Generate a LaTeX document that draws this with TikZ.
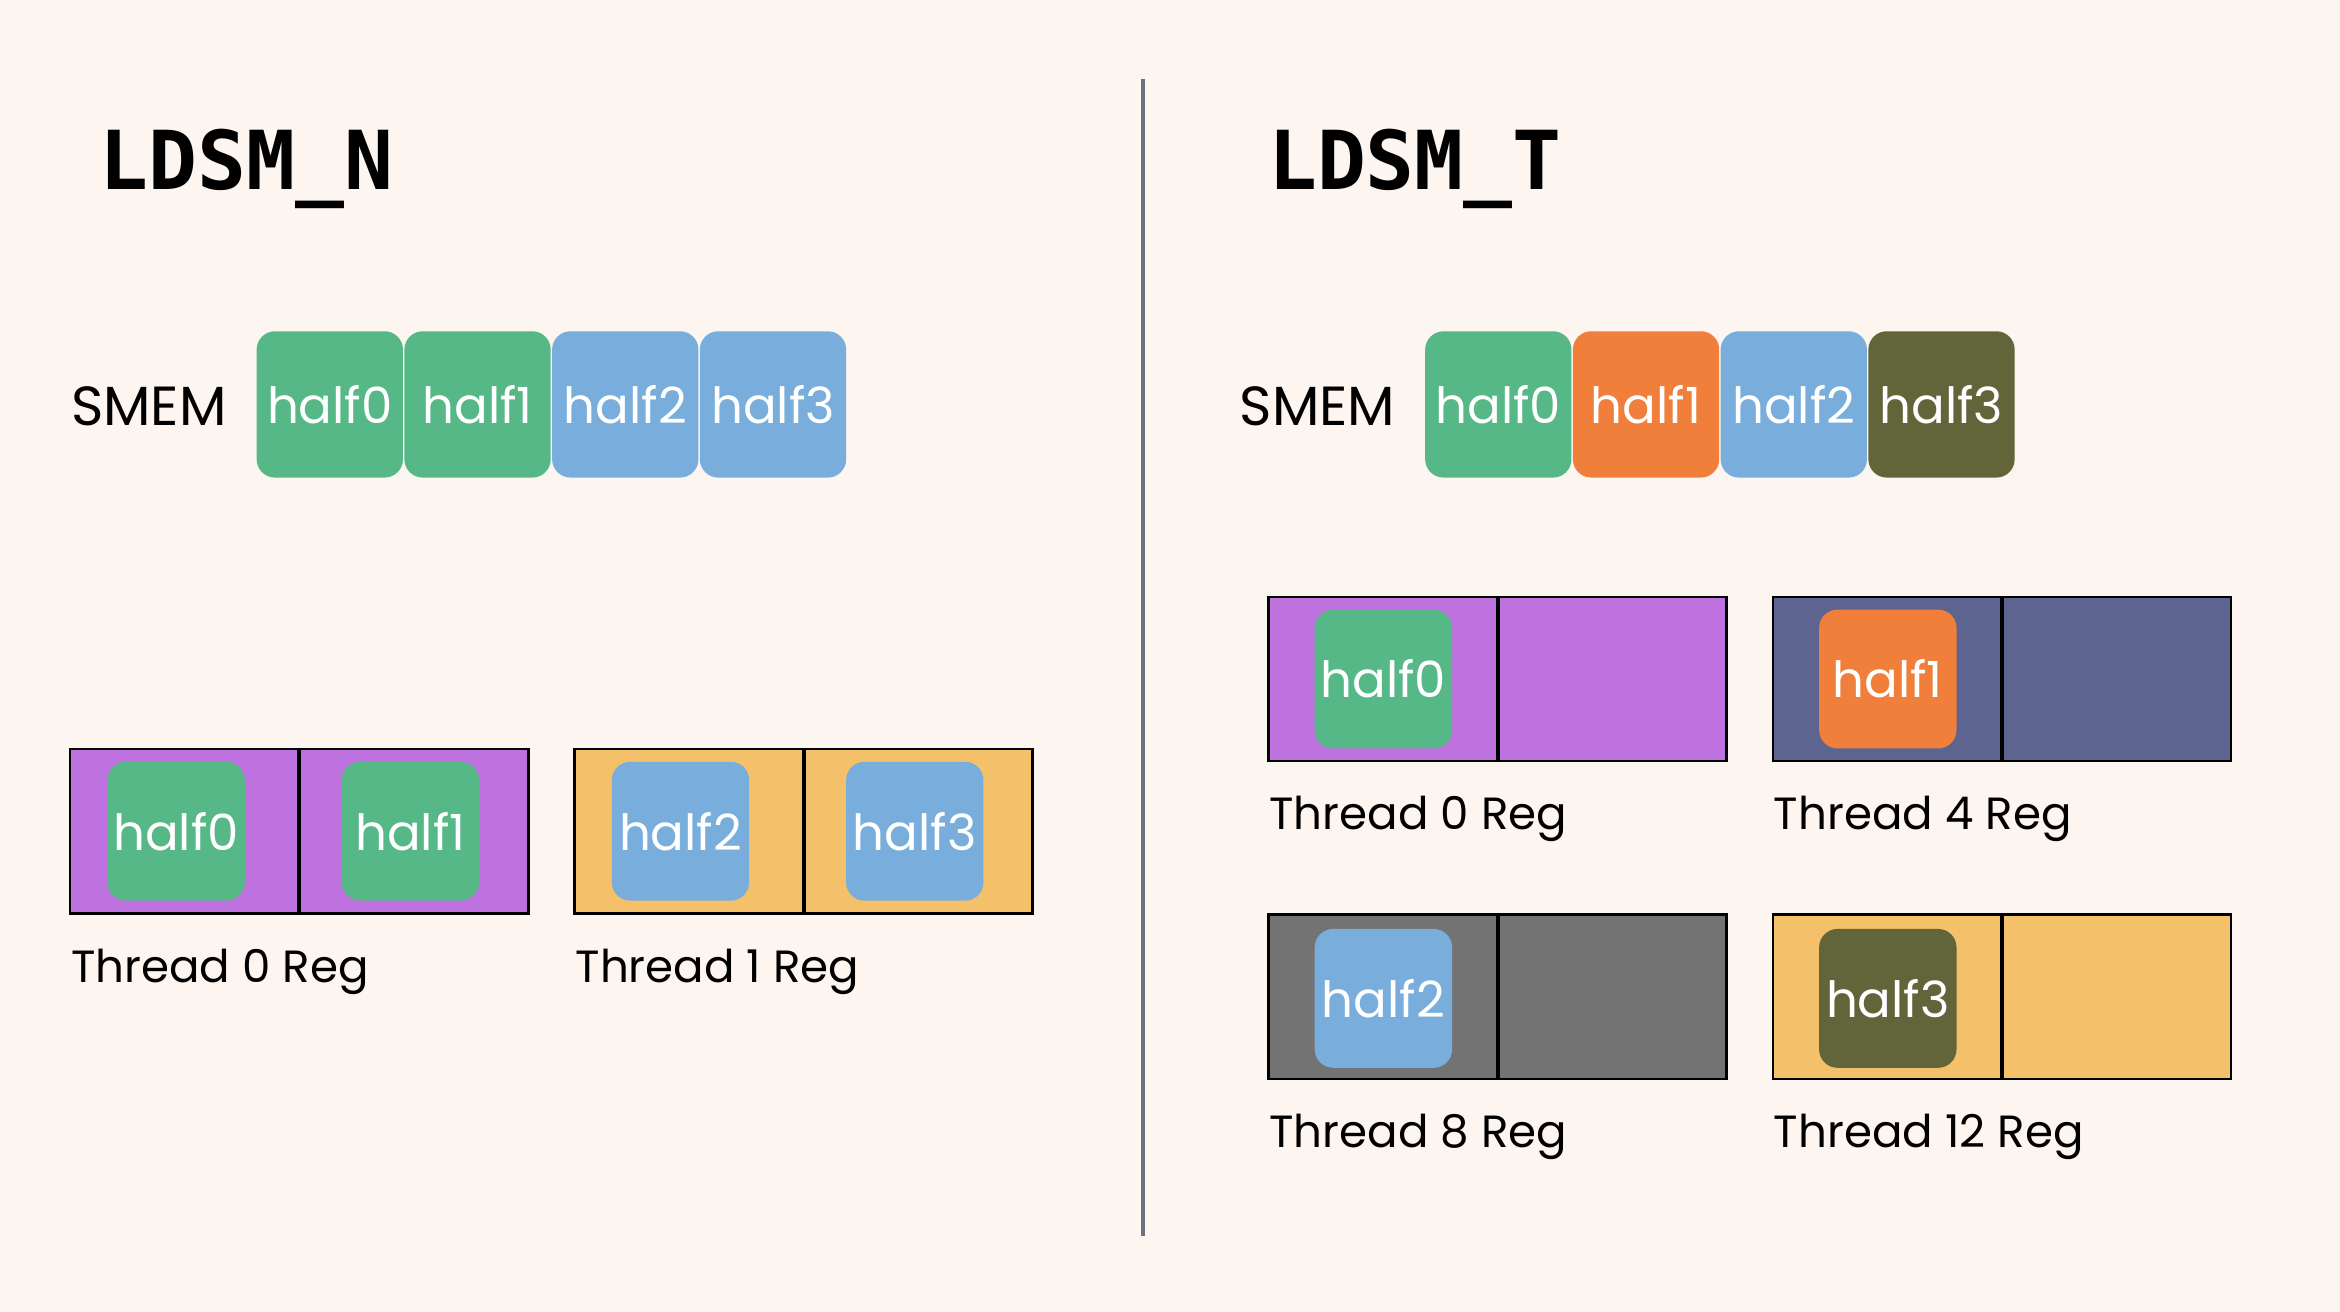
\documentclass[tikz,border=0pt]{standalone}
\usepackage{fontspec}
\setmainfont{Poppins}
\newfontfamily\titlefont{DejaVu Sans Mono}
\definecolor{bgc}{HTML}{FDF5EF}
\definecolor{hgreen}{HTML}{57B887}
\definecolor{hblue}{HTML}{79AEDC}
\definecolor{horange}{HTML}{EF7F3A}
\definecolor{holive}{HTML}{62643A}
\definecolor{rpurple}{HTML}{BE72DF}
\definecolor{rnavy}{HTML}{5C648F}
\definecolor{rgrey}{HTML}{737373}
\definecolor{ryellow}{HTML}{F4C06A}
\definecolor{divc}{HTML}{6E7280}
\tikzset{
  half/.style={rounded corners=3.5pt,inner sep=0,minimum width=0.98cm,minimum height=0.98cm,
    text=white,font=\fontsize{9.5}{11}\selectfont},
  reghalf/.style={half,minimum width=0.92cm,minimum height=0.93cm},
  reg/.style={draw=black,line width=0.5pt},
  lbl/.style={anchor=west,inner sep=0,font=\fontsize{8.6}{10}\selectfont},
  ttl/.style={anchor=west,inner sep=0,font=\titlefont\bfseries\fontsize{15.5}{18}\selectfont}
}
\begin{document}
\begin{tikzpicture}[x=0.01cm,y=-0.01cm]
  \fill[bgc] (0,0) rectangle (1568,879);
  \useasboundingbox (0,0) rectangle (1568,879);
  \draw[divc,line width=0.85pt] (766,53) -- (766,828);
  % LDSM_N
  \node[ttl] (tN) at (66,113) {LDSM\_N};
  \node[lbl,font=\fontsize{10.5}{12}\selectfont] (smemN) at (47,272) {SMEM};
  \node[half,fill=hgreen] (n0) at (221,271) {half0};
  \node[half,fill=hgreen] (n1) at (320,271) {half1};
  \node[half,fill=hblue] (n2) at (419,271) {half2};
  \node[half,fill=hblue] (n3) at (518,271) {half3};
  \filldraw[reg,fill=rpurple] (47,502) rectangle (200,612);
  \filldraw[reg,fill=rpurple] (201,502) rectangle (354,612);
  \filldraw[reg,fill=ryellow] (385,502) rectangle (538,612);
  \filldraw[reg,fill=ryellow] (539,502) rectangle (692,612);
  \node[reghalf,fill=hgreen] (r00) at (118,557) {half0};
  \node[reghalf,fill=hgreen] (r01) at (275,557) {half1};
  \node[reghalf,fill=hblue] (r10) at (456,557) {half2};
  \node[reghalf,fill=hblue] (r11) at (613,557) {half3};
  \node[lbl] (t0N) at (47,651) {Thread 0 Reg};
  \node[lbl] (t1N) at (385,651) {Thread 1 Reg};
  % LDSM_T
  \node[ttl] (tT) at (849,113) {LDSM\_T};
  \node[lbl,font=\fontsize{10.5}{12}\selectfont] (smemT) at (830,272) {SMEM};
  \node[half,fill=hgreen] (m0) at (1004,271) {half0};
  \node[half,fill=horange] (m1) at (1103,271) {half1};
  \node[half,fill=hblue] (m2) at (1202,271) {half2};
  \node[half,fill=holive] (m3) at (1301,271) {half3};
  \filldraw[reg,fill=rpurple] (850,400) rectangle (1003,510);
  \filldraw[reg,fill=rpurple] (1004,400) rectangle (1157,510);
  \filldraw[reg,fill=rnavy] (1188,400) rectangle (1341,510);
  \filldraw[reg,fill=rnavy] (1342,400) rectangle (1495,510);
  \filldraw[reg,fill=rgrey] (850,613) rectangle (1003,723);
  \filldraw[reg,fill=rgrey] (1004,613) rectangle (1157,723);
  \filldraw[reg,fill=ryellow] (1188,613) rectangle (1341,723);
  \filldraw[reg,fill=ryellow] (1342,613) rectangle (1495,723);
  \node[reghalf,fill=hgreen] (s0) at (927,455) {half0};
  \node[reghalf,fill=horange] (s4) at (1265,455) {half1};
  \node[reghalf,fill=hblue] (s8) at (927,669) {half2};
  \node[reghalf,fill=holive] (s12) at (1265,669) {half3};
  \node[lbl] (t0T) at (850,549) {Thread 0 Reg};
  \node[lbl] (t4T) at (1188,549) {Thread 4 Reg};
  \node[lbl] (t8T) at (850,762) {Thread 8 Reg};
  \node[lbl] (t12T) at (1188,762) {Thread 12 Reg};
\end{tikzpicture}
\end{document}
